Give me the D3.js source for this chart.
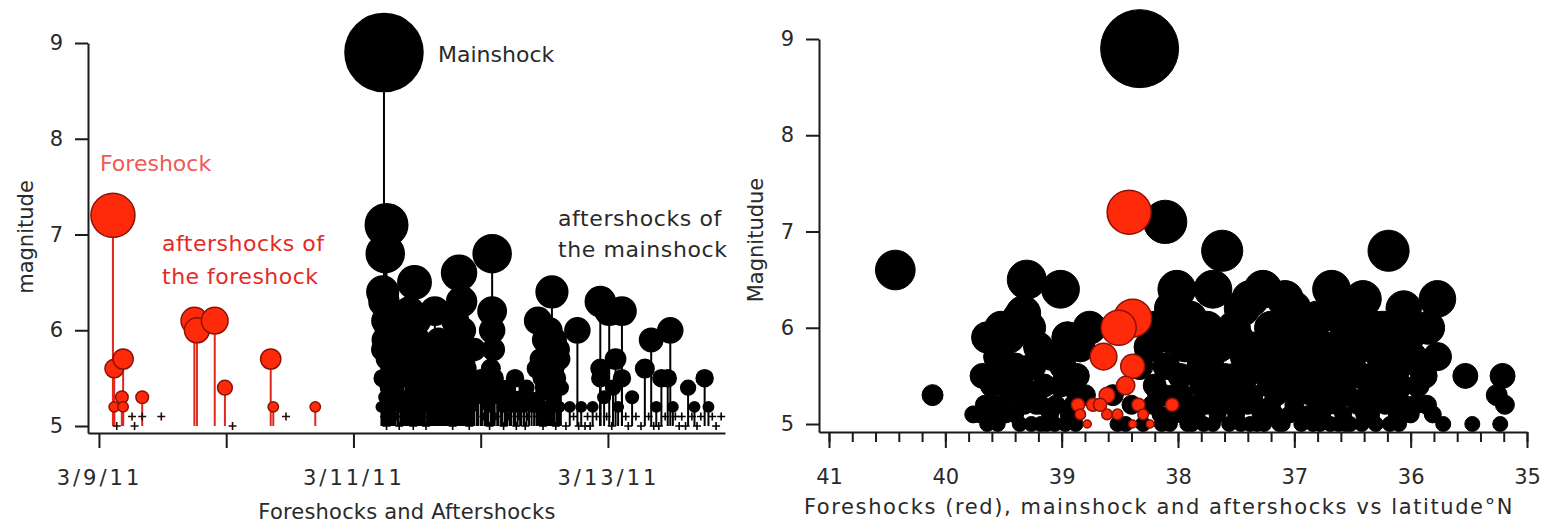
<!DOCTYPE html>
<html lang="en">
<head>
  <meta charset="UTF-8" />
  <title>Foreshocks, mainshock and aftershocks</title>
  <style>
    body { margin: 0; background: white; }
    svg { display: block; font-family: 'DejaVu Sans', sans-serif; }
    .axis path, .axis line { stroke: #1a1a1a; stroke-width: 2; }
    .axis text { font-family: 'DejaVu Sans', sans-serif; font-size: 21px; fill: #2a2a2a; }
    .title { font-size: 21px; fill: #2a2a2a; }
    .note { font-size: 22px; }
  </style>
  <script src="https://d3js.org/d3.v7.min.js"></script>
</head>
<body>
  <div id="chart"></div>
  <script>
    // days after 3/9/11 00:00 UTC, magnitude
    const foreshockSeq = [
      [0.11, 7.2], [0.12, 5.6], [0.19, 5.7], [0.12, 5.2], [0.18, 5.3], [0.19, 5.2],
      [0.14, 5.0], [0.28, 5.0], [0.26, 5.1], [0.34, 5.1], [0.34, 5.3], [0.49, 5.1],
      [0.75, 6.1], [0.77, 6.0], [0.91, 6.1], [0.99, 5.4], [1.05, 5.0],
      [1.35, 5.7], [1.37, 5.2], [1.47, 5.1], [1.70, 5.2]
    ];

    const aftershockSeq = [
      [2.24, 8.9],
      [2.26, 7.1], [2.25, 6.8], [2.23, 6.4], [2.24, 6.3], [2.25, 6.1], [2.27, 6.0], [2.24, 5.9],
      [2.28, 5.8], [2.26, 5.7], [2.29, 5.6], [2.23, 5.5], [2.31, 5.5], [2.27, 5.4], [2.33, 5.4],
      [2.25, 5.3], [2.30, 5.3], [2.35, 5.3], [2.28, 5.2], [2.32, 5.2], [2.37, 5.2], [2.24, 5.1],
      [2.34, 5.1], [2.39, 5.1], [2.26, 5.0], [2.36, 5.0],
      [2.23, 5.8], [2.29, 6.1], [2.31, 5.9], [2.33, 5.7], [2.35, 5.6], [2.37, 5.8], [2.39, 5.5],
      [2.22, 5.2], [2.29, 5.2], [2.38, 5.2], [2.40, 5.3],
      [2.48, 6.5], [2.44, 6.2], [2.50, 6.1], [2.42, 6.0], [2.46, 5.9], [2.52, 5.8], [2.41, 5.7],
      [2.47, 5.6], [2.55, 5.6], [2.43, 5.5], [2.50, 5.5], [2.58, 5.4], [2.45, 5.3], [2.53, 5.3],
      [2.60, 5.3], [2.42, 5.2], [2.49, 5.2], [2.56, 5.2], [2.44, 5.1], [2.52, 5.1], [2.59, 5.1],
      [2.47, 5.0], [2.57, 5.0],
      [2.41, 5.9], [2.43, 5.8], [2.45, 5.6], [2.49, 5.7], [2.51, 5.9], [2.54, 5.5], [2.56, 5.7],
      [2.59, 5.6], [2.61, 5.5], [2.46, 5.2], [2.51, 5.2], [2.54, 5.2], [2.58, 5.2],
      [2.64, 6.2], [2.83, 6.6], [2.85, 6.3], [2.80, 6.1], [2.86, 6.0], [2.82, 5.9], [2.70, 5.8],
      [2.88, 5.8], [2.66, 5.7], [2.78, 5.7], [2.62, 5.6], [2.74, 5.6], [2.84, 5.6], [2.68, 5.5],
      [2.90, 5.5], [2.72, 5.4], [2.80, 5.4], [2.64, 5.3], [2.76, 5.3], [2.88, 5.3], [2.70, 5.2],
      [2.82, 5.2], [2.93, 5.2], [2.66, 5.1], [2.74, 5.1], [2.86, 5.1], [2.78, 5.0], [2.91, 5.0],
      [2.63, 5.8], [2.65, 5.4], [2.67, 5.9], [2.69, 5.6], [2.71, 5.5], [2.73, 5.7], [2.75, 5.4],
      [2.77, 5.5], [2.79, 5.6], [2.81, 5.8], [2.84, 5.4], [2.87, 5.5], [2.89, 5.6], [2.92, 5.4],
      [2.61, 5.2], [2.63, 5.2], [2.67, 5.2], [2.69, 5.3], [2.72, 5.2], [2.75, 5.2], [2.77, 5.2],
      [2.80, 5.2], [2.84, 5.2], [2.87, 5.2], [2.89, 5.2], [2.91, 5.3],
      [3.09, 6.8], [3.09, 6.2], [3.09, 6.0], [3.10, 5.8], [3.08, 5.6], [2.95, 5.8], [3.27, 5.5],
      [3.00, 5.5], [3.04, 5.4], [3.14, 5.4], [3.20, 5.3], [2.98, 5.3], [3.06, 5.2], [3.17, 5.2],
      [3.24, 5.2], [3.32, 5.2], [3.02, 5.1], [3.12, 5.1], [3.22, 5.1], [3.30, 5.1], [3.37, 5.1],
      [3.07, 5.0], [3.18, 5.0], [3.28, 5.0], [3.35, 5.0], [3.36, 5.4],
      [2.94, 5.3], [2.97, 5.4], [3.01, 5.3], [3.03, 5.5], [3.05, 5.3], [3.11, 5.5], [3.13, 5.3],
      [3.16, 5.4], [3.19, 5.2], [3.21, 5.4], [3.23, 5.3], [3.26, 5.3], [3.29, 5.2], [3.31, 5.3],
      [3.34, 5.2], [3.38, 5.3], [3.40, 5.2],
      [3.45, 6.1], [3.56, 6.4], [3.56, 5.8], [3.62, 5.7], [3.50, 5.9], [3.58, 5.6], [3.48, 5.5],
      [3.60, 5.5], [3.53, 5.4], [3.63, 5.4], [3.46, 5.3], [3.57, 5.3], [3.51, 5.2], [3.61, 5.2],
      [3.55, 5.1], [3.44, 5.1], [3.59, 5.0], [3.49, 5.0], [3.42, 5.2],
      [3.47, 5.7], [3.52, 5.6], [3.54, 6.0], [3.58, 5.9], [3.61, 5.8], [3.49, 5.4], [3.55, 5.5],
      [3.44, 5.6], [3.44, 5.2], [3.47, 5.2], [3.53, 5.2], [3.57, 5.2], [3.60, 5.2], [3.62, 5.2],
      [3.76, 6.0], [3.94, 6.3], [3.70, 5.2], [3.73, 5.1], [3.79, 5.2], [3.84, 5.1], [3.88, 5.2],
      [3.67, 5.0], [3.82, 5.0], [3.91, 5.1], [3.94, 5.6], [3.94, 5.5], [3.97, 5.3], [3.99, 5.1],
      [3.86, 5.0], [3.77, 5.0],
      [4.01, 6.2], [4.11, 6.2], [4.06, 5.7], [4.11, 5.5], [4.19, 5.3], [4.04, 5.4], [4.08, 5.2],
      [4.14, 5.1], [4.22, 5.1], [4.26, 5.0], [4.03, 5.0], [4.16, 5.0], [4.29, 5.6], [4.34, 5.9],
      [4.42, 5.5], [4.49, 6.0], [4.47, 5.5], [4.38, 5.2], [4.45, 5.1], [4.32, 5.1], [4.40, 5.0],
      [4.36, 5.0], [4.51, 5.2], [4.53, 5.1],
      [4.63, 5.4], [4.76, 5.5], [4.58, 5.1], [4.61, 5.0], [4.66, 5.1], [4.70, 5.0], [4.73, 5.1],
      [4.79, 5.2], [4.82, 5.1], [4.85, 5.0], [4.89, 5.1], [4.68, 5.2], [4.56, 5.0]
    ];

    // latitude °N, magnitude
    const foreshockLat = [
      [38.42, 7.2], [38.39, 6.1], [38.51, 6.0], [38.64, 5.7], [38.39, 5.6], [38.45, 5.4],
      [38.61, 5.3], [38.86, 5.2], [38.73, 5.2], [38.67, 5.2], [38.61, 5.1], [38.84, 5.1],
      [38.52, 5.1], [38.34, 5.2], [38.30, 5.1], [38.78, 5.0], [38.39, 5.0], [38.24, 5.0],
      [38.05, 5.2]
    ];

    const aftershockLat = [
      [38.33, 8.9], [38.11, 7.1], [37.62, 6.8], [36.19, 6.8], [40.43, 6.6], [39.30, 6.5],
      [39.01, 6.4], [39.36, 6.1], [39.64, 5.9], [38.76, 6.0], [40.11, 5.3],
      [38.01, 6.4], [37.70, 6.4], [37.27, 6.4], [37.38, 6.3], [37.01, 6.2], [36.68, 6.4],
      [36.41, 6.3], [35.77, 6.3], [36.06, 6.2],
      [38.07, 5.9], [37.75, 6.0], [37.49, 5.9], [37.04, 5.9], [36.69, 5.8], [36.41, 5.9],
      [35.77, 5.7], [35.53, 5.5], [35.21, 5.5], [35.26, 5.3], [35.19, 5.2], [35.47, 5.0],
      [35.23, 5.0], [35.81, 5.1], [35.72, 5.0], [36.00, 5.1],
      [37.81, 5.6], [37.41, 5.5], [37.10, 5.7], [36.92, 5.4], [36.75, 5.3], [36.58, 5.5],
      [36.26, 5.7], [36.15, 5.3], [36.46, 5.2], [37.55, 5.2], [37.96, 5.3], [38.07, 5.0],
      [37.66, 5.1], [37.29, 5.1], [36.89, 5.1], [36.69, 5.0], [36.52, 5.0], [36.18, 5.0],
      [35.94, 5.4],
      [39.68, 5.5], [39.50, 5.5], [39.70, 5.1], [39.64, 5.0], [39.36, 5.0], [39.42, 5.3],
      [39.25, 5.6], [39.30, 5.35], [39.10, 5.1], [39.13, 5.0], [38.99, 5.6], [39.01, 5.4],
      [38.87, 5.5], [38.84, 5.8], [39.33, 6.15], [38.56, 5.3], [38.52, 5.0], [38.33, 5.6],
      [38.18, 5.9], [38.17, 5.3],
      [38.25, 5.8], [38.20, 6.0], [38.05, 6.2], [37.90, 6.1], [37.85, 5.8], [37.80, 5.4],
      [37.92, 5.2], [38.15, 5.1], [37.72, 5.7], [37.60, 5.5], [37.52, 6.0], [37.45, 6.2],
      [37.35, 5.8], [37.30, 5.6], [37.20, 6.0], [37.15, 5.3], [37.08, 6.3], [36.98, 5.6],
      [36.95, 6.0], [36.85, 5.8], [36.80, 6.1], [36.72, 5.6], [36.62, 6.2], [36.55, 6.0],
      [36.50, 5.6], [36.45, 6.1], [36.35, 5.5], [36.30, 6.0], [36.22, 5.8], [36.10, 5.6],
      [36.02, 5.9], [35.98, 5.7], [35.88, 5.5], [35.85, 6.0], [36.05, 5.2], [36.38, 5.3],
      [36.70, 5.2], [37.00, 5.2], [37.22, 5.4], [37.40, 5.2], [37.68, 5.3], [37.88, 5.0],
      [38.20, 5.4], [38.10, 5.6], [38.40, 5.2], [38.30, 5.0],
      [39.76, 5.1], [39.55, 5.7], [39.52, 6.0], [39.45, 5.9], [39.40, 5.6], [39.28, 6.0],
      [39.20, 5.8], [39.15, 5.4], [39.05, 5.2], [38.95, 5.9], [38.90, 5.2], [39.58, 5.2],
      [39.48, 5.1], [39.22, 5.2], [39.60, 5.4],
      [39.55, 5.0], [39.45, 5.3], [39.35, 5.5], [39.18, 5.0], [39.08, 5.7], [38.97, 5.0],
      [38.92, 5.4], [38.80, 5.3], [38.45, 5.0], [38.12, 5.3], [38.02, 5.1], [37.98, 5.5],
      [37.94, 5.8], [37.86, 5.2], [37.78, 5.0], [37.74, 5.5], [37.64, 5.8], [37.58, 5.3],
      [37.52, 5.5], [37.46, 5.0], [37.43, 5.7], [37.36, 5.3], [37.32, 5.0], [37.25, 5.8],
      [37.18, 5.6], [37.13, 5.0], [37.06, 5.4], [37.02, 5.6], [36.96, 5.1], [36.90, 5.7],
      [36.86, 5.3], [36.82, 5.5], [36.78, 5.0], [36.74, 5.8], [36.66, 5.4], [36.62, 5.0],
      [36.60, 5.7], [36.54, 5.3], [36.48, 5.8], [36.44, 5.5], [36.40, 5.1], [36.36, 5.8],
      [36.32, 5.2], [36.28, 5.4], [36.24, 6.0], [36.20, 5.5], [36.14, 5.9], [36.12, 5.1],
      [36.08, 5.4], [36.04, 5.7], [35.96, 5.2], [35.92, 5.6], [35.86, 5.2],
      [39.66, 5.2], [39.58, 5.1], [39.50, 5.2], [39.40, 5.1], [39.32, 5.2], [39.26, 5.0],
      [39.18, 5.2], [39.06, 5.0], [38.94, 5.1], [38.88, 5.0], [38.22, 5.2], [38.14, 5.0],
      [38.04, 5.3], [37.96, 5.1], [37.92, 5.0], [37.84, 5.1], [37.76, 5.2], [37.70, 5.0],
      [37.62, 5.2], [37.56, 5.0], [37.50, 5.1], [37.44, 5.3], [37.38, 5.0], [37.34, 5.2],
      [37.26, 5.0], [37.20, 5.2], [37.16, 5.1], [37.10, 5.0], [37.04, 5.1], [36.98, 5.3],
      [36.94, 5.0], [36.84, 5.0], [36.80, 5.2], [36.76, 5.1], [36.64, 5.2], [36.58, 5.1],
      [36.56, 5.0], [36.42, 5.0], [36.34, 5.1], [36.30, 5.0], [36.22, 5.2], [36.10, 5.0],
      [36.06, 5.1]
    ];

    const magTicks = [5, 6, 7, 8, 9];
    const dayTicks = ["2011-03-09", "2011-03-10", "2011-03-11", "2011-03-12", "2011-03-13"];
    const dayLabels = ["3/9/11", "", "3/11/11", "", "3/13/11"];
    const latTicks = [41, 40, 39, 38, 37, 36, 35];

    const width = 1563;
    const height = 525;
    const red = "#ff2a0a";
    const redStroke = "#8c1208";
    const redStem = "#e2281c";

    const svg = d3.select("#chart")
      .append("svg")
      .attr("width", width)
      .attr("height", height);

    const t0 = Date.UTC(2011, 2, 9);
    const toDate = d => new Date(t0 + d * 864e5);

    // ---- left panel: magnitude vs time ----
    const x1 = d3.scaleUtc().domain([toDate(-0.086), toDate(4.92)]).range([88, 725]);
    const y1 = d3.scaleLinear().domain([4.927, 9]).range([433, 43]);
    const r1 = d3.scaleLinear()
      .domain([5, 5.5, 6, 6.6, 7.2, 8.9])
      .range([3, 8.5, 12.5, 17.5, 22, 39]);

    function drawStems(data, stemColor, fill, stroke) {
      const g = svg.append("g");
      g.selectAll("line")
        .data(data.filter(d => d[1] > 5.1))
        .join("line")
        .attr("x1", d => x1(toDate(d[0])))
        .attr("x2", d => x1(toDate(d[0])))
        .attr("y1", y1(5))
        .attr("y2", d => y1(d[1]))
        .attr("stroke", stemColor)
        .attr("stroke-width", 2);
      g.selectAll("path")
        .data(data.filter(d => d[1] <= 5.1))
        .join("path")
        .attr("d", d => {
          const x = x1(toDate(d[0])), y = y1(d[1]);
          return `M${x - 4},${y}h8M${x},${y - 4}v8`;
        })
        .attr("stroke", stemColor === "black" ? "black" : "#2a0a08")
        .attr("stroke-width", 1.6);
      g.selectAll("circle")
        .data(data.filter(d => d[1] > 5.1))
        .join("circle")
        .attr("cx", d => x1(toDate(d[0])))
        .attr("cy", d => y1(d[1]))
        .attr("r", d => r1(d[1]))
        .attr("fill", fill)
        .attr("stroke", stroke)
        .attr("stroke-width", 1.5);
    }

    drawStems(aftershockSeq, "black", "black", "black");
    drawStems(foreshockSeq, redStem, red, redStroke);

    svg.append("g")
      .attr("class", "axis")
      .attr("transform", "translate(88,0)")
      .call(d3.axisLeft(y1).tickValues(magTicks).tickSize(13).tickSizeOuter(0).tickPadding(12)
        .tickFormat(d3.format("d")));

    const xAxis1 = svg.append("g")
      .attr("class", "axis")
      .attr("transform", "translate(0,433)")
      .call(d3.axisBottom(x1)
        .tickValues(dayTicks.map(s => new Date(s + "T00:00:00Z")))
        .tickSize(15).tickSizeOuter(0).tickPadding(22)
        .tickFormat((d, i) => dayLabels[i]));
    xAxis1.selectAll("text").style("letter-spacing", "3px");

    svg.append("text")
      .attr("class", "title")
      .attr("x", 407).attr("y", 519)
      .attr("text-anchor", "middle")
      .style("letter-spacing", "0.2px")
      .text("Foreshocks and Aftershocks");

    svg.append("text")
      .attr("class", "title")
      .attr("transform", "translate(33,237) rotate(-90)")
      .attr("text-anchor", "middle")
      .text("magnitude");

    svg.append("text").attr("class", "note")
      .attr("x", 100).attr("y", 171)
      .attr("fill", "#ef5a55")
      .text("Foreshock");
    svg.append("text").attr("class", "note")
      .attr("x", 162).attr("y", 251)
      .attr("fill", "#e42a27")
      .style("letter-spacing", "0.5px")
      .text("aftershocks of");
    svg.append("text").attr("class", "note")
      .attr("x", 162).attr("y", 284)
      .attr("fill", "#e42a27")
      .style("letter-spacing", "0.5px")
      .text("the foreshock");
    svg.append("text").attr("class", "note")
      .attr("x", 438).attr("y", 62)
      .attr("fill", "#2a2a2a")
      .text("Mainshock");
    svg.append("text").attr("class", "note")
      .attr("x", 558).attr("y", 226)
      .attr("fill", "#2a2a2a")
      .style("letter-spacing", "0.6px")
      .text("aftershocks of");
    svg.append("text").attr("class", "note")
      .attr("x", 558).attr("y", 257)
      .attr("fill", "#2a2a2a")
      .style("letter-spacing", "0.6px")
      .text("the mainshock");

    // ---- right panel: magnitude vs latitude ----
    const x2 = d3.scaleLinear().domain([41.086, 35]).range([819, 1527]);
    const y2 = d3.scaleLinear().domain([4.917, 9]).range([432, 39]);
    const r2 = d3.scaleLinear()
      .domain([5, 5.5, 6, 6.5, 7.2, 8.9])
      .range([7.5, 12.5, 16.5, 19.5, 22, 39]);
    const r2red = d3.scaleLinear()
      .domain([5, 5.5, 6.1, 7.2])
      .range([4, 10.5, 19, 22]);

    svg.append("g")
      .selectAll("circle")
      .data(aftershockLat)
      .join("circle")
      .attr("cx", d => x2(d[0]))
      .attr("cy", d => y2(d[1]))
      .attr("r", d => r2(d[1]))
      .attr("fill", "black")
      .attr("stroke", "black")
      .attr("stroke-width", 1);

    svg.append("g")
      .selectAll("circle")
      .data(foreshockLat)
      .join("circle")
      .attr("cx", d => x2(d[0]))
      .attr("cy", d => y2(d[1]))
      .attr("r", d => r2red(d[1]))
      .attr("fill", red)
      .attr("stroke", redStroke)
      .attr("stroke-width", 1.5);

    svg.append("g")
      .attr("class", "axis")
      .attr("transform", "translate(819,0)")
      .call(d3.axisLeft(y2).tickValues(magTicks).tickSize(13).tickSizeOuter(0).tickPadding(12)
        .tickFormat(d3.format("d")));

    svg.append("g")
      .attr("class", "axis")
      .attr("transform", "translate(0,432)")
      .call(d3.axisBottom(x2).ticks(30).tickSize(10).tickSizeOuter(0).tickFormat(""))
      .call(g => g.select(".domain").remove());

    svg.append("g")
      .attr("class", "axis")
      .attr("transform", "translate(0,432)")
      .call(d3.axisBottom(x2).tickValues(latTicks).tickSize(16).tickSizeOuter(0).tickPadding(21)
        .tickFormat(d3.format("d")));

    svg.append("text")
      .attr("class", "title")
      .attr("x", 1159).attr("y", 514)
      .attr("text-anchor", "middle")
      .style("letter-spacing", "1.6px")
      .text("Foreshocks (red), mainshock and aftershocks vs latitude°N");

    svg.append("text")
      .attr("class", "title")
      .attr("transform", "translate(763,240) rotate(-90)")
      .attr("text-anchor", "middle")
      .text("Magnitudue");
  </script>
</body>
</html>
